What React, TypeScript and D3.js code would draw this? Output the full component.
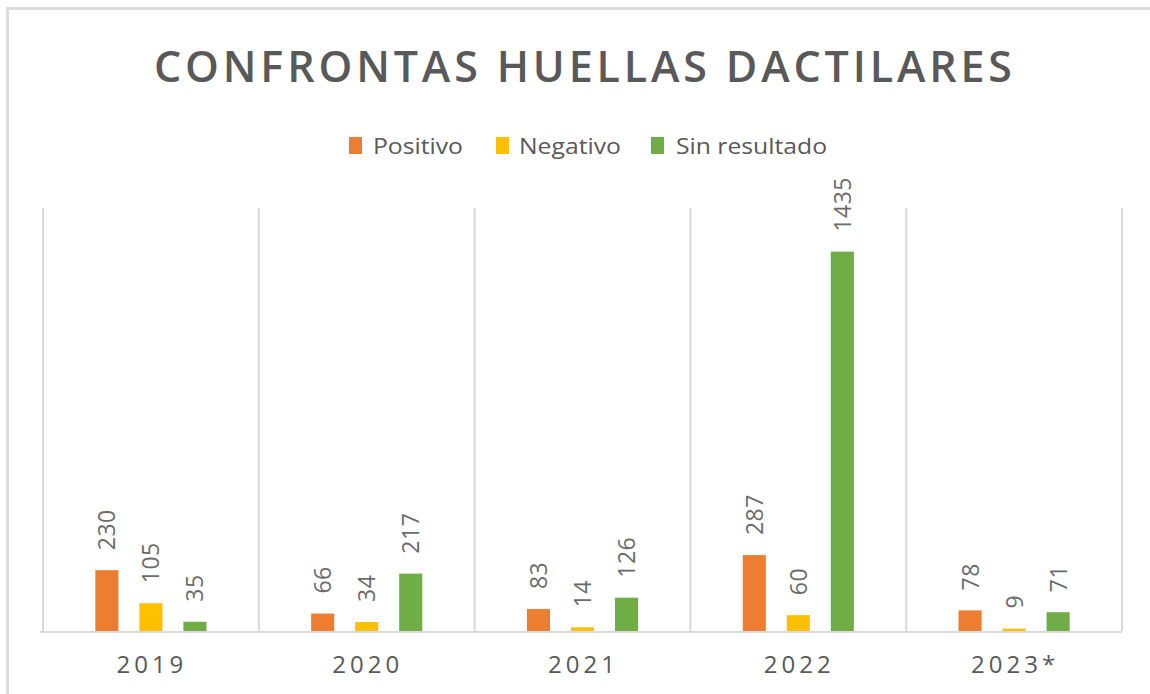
import React from "react";
import * as d3 from "d3";

const categories = ["2019", "2020", "2021", "2022", "2023*"];
const seriesNames = ["Positivo", "Negativo", "Sin resultado"];
const positivo = [230, 66, 83, 287, 78];
const negativo = [105, 34, 14, 60, 9];
const sinResultado = [35, 217, 126, 1435, 71];
const colors = ["#ED7D31", "#FFC000", "#70AD47"];

const W = 1150, H = 694;
const plot = { left: 43, right: 1122, top: 208, bottom: 631 };
const font = "'Open Sans', 'Noto Sans', sans-serif";
const textColor = "#595959";

export default function App() {
  const series = [positivo, negativo, sinResultado];
  const x = d3.scaleBand<string>().domain(categories).range([plot.left, plot.right]).padding(0);
  const y = d3.scaleLinear().domain([0, 1600]).range([plot.bottom, plot.top]);
  const bw = x.bandwidth();
  const barW = bw * 0.107;
  const step = bw * 0.204;
  const legendItems = [
    { x: 349, tx: 373, tl: 90 },
    { x: 496, tx: 519, tl: 102 },
    { x: 651, tx: 676, tl: 151 },
  ];
  return (
    <svg width={W} height={H} style={{ position: "absolute", left: 0, top: 0, background: "#fff" }}>
      <rect x={7.5} y={8.5} width={1150} height={700} fill="#fff" stroke="#dcdcdc" strokeWidth={3} />
      <text x={583} y={82} textAnchor="middle" fontFamily={font} fontWeight={600} fontSize={43}
        fill={textColor} textLength={858} lengthAdjust="spacing">CONFRONTAS HUELLAS DACTILARES</text>
      {seriesNames.map((s, i) => (
        <g key={s}>
          <rect x={legendItems[i].x} y={137} width={13} height={17} fill={colors[i]} />
          <text x={legendItems[i].tx} y={154} fontFamily={font} fontSize={22} fill={textColor}
            textLength={legendItems[i].tl} lengthAdjust="spacingAndGlyphs">{s}</text>
        </g>
      ))}
      {categories.concat([""]).map((c, i) => {
        const gx = plot.left + i * bw;
        return <line key={"g" + i} x1={gx} x2={gx} y1={plot.top} y2={plot.bottom} stroke="#d9d9d9" strokeWidth={2} />;
      })}
      {categories.map((c, ci) => {
        const cx = (x(c) as number) + bw / 2;
        return (
          <g key={c}>
            {series.map((vals, si) => {
              const bx = cx + (si - 1) * step - barW / 2;
              const v = vals[ci];
              const top = y(v);
              const lx = cx + (si - 1) * step;
              return (
                <g key={si}>
                  <rect x={bx} y={top} width={barW} height={plot.bottom - top} fill={colors[si]} />
                  <text transform={`translate(${lx + 8.5},${top - 20}) rotate(-90)`} fontFamily={font}
                    fontSize={23} fill="#6b6b6b" letterSpacing={0.5}>{v}</text>
                </g>
              );
            })}
            <text x={cx + 1} y={673} textAnchor="middle" fontFamily={font} fontSize={24}
              fill={textColor} letterSpacing={4}>{c}</text>
          </g>
        );
      })}
      <line x1={plot.left - 3} x2={plot.right} y1={plot.bottom + 1} y2={plot.bottom + 1} stroke="#d9d9d9" strokeWidth={2} />
    </svg>
  );
}
